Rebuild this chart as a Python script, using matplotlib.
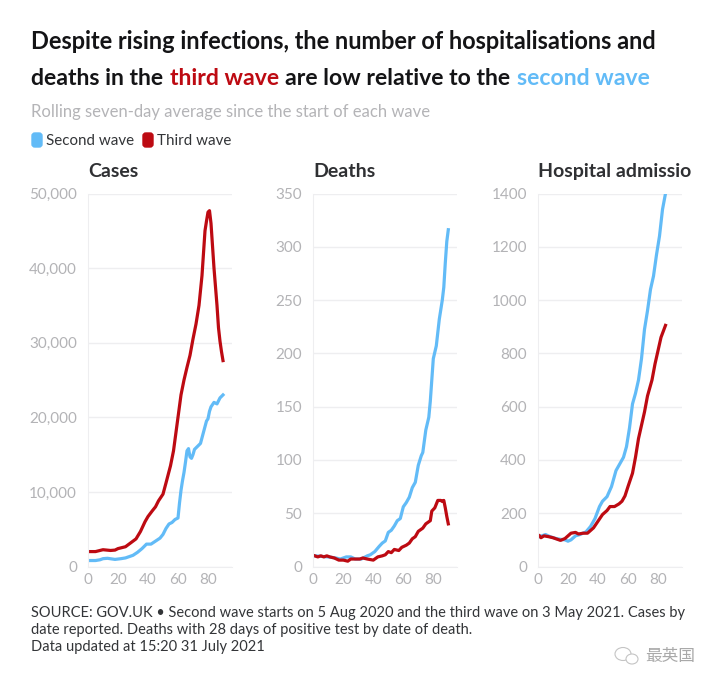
import matplotlib
matplotlib.use("Agg")
import matplotlib.pyplot as plt
from matplotlib.patches import Ellipse, FancyBboxPatch

plt.rcParams['font.family'] = ['Lato', 'Noto Sans CJK SC', 'DejaVu Sans']

W, H = 720, 688
BLUE = '#62bbf7'
RED = '#bd0a12'
GRID = '#eeeef0'
GREY = '#b3b3b6'

# cases
cases_third_x = [1, 5, 10, 15, 18, 20, 25, 30, 32, 35, 38, 40, 43, 45, 47, 50, 52, 55, 57, 60, 62, 64, 66, 68, 70,
                 72, 74, 76, 77, 78, 79, 80, 81, 82, 83, 84, 85, 86, 87, 88, 89, 90]
cases_third_y = [2000, 2000, 2250, 2150, 2200, 2400, 2650, 3400, 3700, 4700, 6000, 6700, 7500, 8000, 8800, 9700,
                 11200, 13500, 15500, 20000, 23000, 25000, 26700, 28300, 30500, 32500, 35000, 39000, 42000, 45000,
                 46300, 47500, 47700, 46000, 43000, 40000, 37500, 35000, 32000, 30200, 28800, 27600]
cases_second_x = [1, 5, 8, 10, 13, 18, 22, 25, 30, 33, 36, 39, 42, 45, 48, 50, 52, 54, 56, 58, 60, 61, 62, 63, 64,
                  65, 66, 67, 68, 69, 70, 71, 73, 75, 77, 79, 80, 81, 82, 84, 86, 88, 90]
cases_second_y = [800, 800, 900, 1050, 1100, 950, 1050, 1150, 1500, 1900, 2400, 3000, 3000, 3400, 3800, 4300, 5100,
                  5700, 5900, 6300, 6500, 8500, 10200, 11500, 12600, 14000, 15500, 15800, 14700, 14500, 15000,
                  15700, 16100, 16500, 18000, 19500, 19800, 20800, 21400, 22000, 21800, 22600, 23000]

# deaths
deaths_third_x = [1, 3, 5, 7, 9, 11, 14, 17, 20, 23, 25, 28, 31, 33, 36, 40, 43, 46, 48, 50, 52, 54, 57, 59, 62, 64,
                  66, 68, 70, 73, 75, 77, 78, 79, 81, 83, 85, 86, 87, 88, 89, 90]
deaths_third_y = [10, 9, 10, 9, 10, 9, 8, 6, 6, 5, 7, 7, 7, 8, 7, 6, 9, 10, 11, 14, 13, 16, 15, 18, 20, 22, 26, 28,
                  33, 36, 40, 42, 43, 52, 55, 62, 62, 61, 62, 55, 47, 40]
deaths_second_x = [1, 10, 15, 18, 22, 25, 28, 32, 36, 38, 41, 44, 46, 48, 50, 52, 54, 56, 58, 60, 62, 64, 66, 68, 70,
                   72, 73, 75, 77, 78, 80, 82, 84, 86, 87, 88, 89, 90]
deaths_second_y = [10, 9, 8, 7, 9, 9, 7, 7, 10, 11, 14, 19, 22, 24, 32, 34, 38, 43, 45, 56, 60, 65, 74, 79, 95, 104,
                   107, 128, 140, 155, 195, 207, 232, 250, 262, 285, 305, 316]

# hospital admissions
hosp_third_x = [1, 2, 4, 7, 10, 13, 15, 18, 20, 22, 25, 27, 30, 33, 35, 37, 40, 43, 46, 48, 51, 54, 56, 58, 60, 63,
                65, 67, 69, 71, 73, 76, 78, 80, 82, 85]
hosp_third_y = [115, 108, 115, 112, 108, 102, 98, 105, 115, 125, 128, 122, 125, 125, 135, 145, 170, 195, 210, 225,
                225, 235, 245, 265, 300, 350, 410, 480, 530, 580, 640, 700, 760, 810, 860, 905]
hosp_second_x = [1, 5, 8, 12, 15, 18, 20, 22, 25, 28, 32, 35, 38, 41, 43, 46, 49, 52, 54, 57, 59, 61, 63, 65, 67, 69,
                 71, 73, 75, 77, 79, 81, 83, 85]
hosp_second_y = [112, 120, 112, 105, 102, 100, 95, 100, 115, 120, 130, 150, 180, 225, 245, 262, 300, 360, 380, 410,
                 450, 520, 610, 650, 700, 780, 890, 960, 1040, 1090, 1170, 1240, 1340, 1400]

x_ticks = [0, 20, 40, 60, 80]
cases_ticks = [0, 10000, 20000, 30000, 40000, 50000]
deaths_ticks = [0, 50, 100, 150, 200, 250, 300, 350]
hosp_ticks = [0, 200, 400, 600, 800, 1000, 1200, 1400]

fig = plt.figure(figsize=(W / 100, H / 100), dpi=100, facecolor='white')


def fx(px):
    return px / W


def fy(py):
    return 1 - py / H


def draw_panel(left, title, second, third, ticks, fmt):
    right = left + 143.5
    top, bottom = 193.5, 566.5
    ax = fig.add_axes([fx(left), fy(bottom), fx(right - left), (bottom - top) / H])
    ax.plot(second[0], second[1], color=BLUE, lw=2.3, solid_joinstyle='round')
    ax.plot(third[0], third[1], color=RED, lw=2.3, solid_joinstyle='round')
    ax.set_xlim(0, 95.67)
    ax.set_ylim(0, ticks[-1])
    ax.set_xticks(x_ticks)
    ax.set_yticks(ticks)
    ax.set_yticklabels([fmt(t) for t in ticks])
    ax.grid(axis='y', color=GRID, lw=1)
    ax.set_axisbelow(True)
    ax.tick_params(length=0, labelsize=11, labelcolor=GREY)
    ax.tick_params(axis='y', pad=8)
    ax.tick_params(axis='x', pad=5)
    for side in ['top', 'right']:
        ax.spines[side].set_visible(False)
    for side in ['left', 'bottom']:
        ax.spines[side].set_color(GRID)
    fig.text(fx(left), fy(177), title, fontsize=14, fontweight='bold', color='#2f3033', va='baseline')
    return ax


draw_panel(88, 'Cases', (cases_second_x, cases_second_y), (cases_third_x, cases_third_y),
           cases_ticks, lambda t: f'{t:,}')
draw_panel(313.3, 'Deaths', (deaths_second_x, deaths_second_y), (deaths_third_x, deaths_third_y),
           deaths_ticks, str)
draw_panel(538, 'Hospital admissio', (hosp_second_x, hosp_second_y), (hosp_third_x, hosp_third_y),
           hosp_ticks, str)


# title runs with coloured words
def text_run(px, py, parts, gap, **kw):
    renderer = fig.canvas.get_renderer()
    for s, c in parts:
        t = fig.text(fx(px), fy(py), s, color=c, va='baseline', **kw)
        px += t.get_window_extent(renderer).width + gap


text_run(31, 49, [('Despite rising infections, the number of hospitalisations and', '#141416')], 6,
         fontsize=16.95, fontweight='bold')
text_run(31, 85, [('deaths in the', '#141416'), ('third wave', RED), ('are low relative to the', '#141416'),
                  ('second wave', BLUE)], 6.5, fontsize=16.6, fontweight='bold')

fig.text(fx(31), fy(117), 'Rolling seven-day average since the start of each wave', fontsize=12, color='#b4b4b7')

# legend
for px, c, label in [(31, BLUE, 'Second wave'), (142, RED, 'Third wave')]:
    fig.text(fx(px + 15), fy(145), label, fontsize=10.9, color='#333538')
    box = FancyBboxPatch((fx(px + 1), fy(147)), fx(10), 14 / H, boxstyle='round,pad=0,rounding_size=0.004',
                         fc=c, ec=c, lw=1, transform=fig.transFigure)
    fig.add_artist(box)

# footnote
foot = ['SOURCE: GOV.UK • Second wave starts on 5 Aug 2020 and the third wave on 3 May 2021. Cases by',
        'date reported. Deaths with 28 days of positive test by date of death.',
        'Data updated at 15:20 31 July 2021']
for py, line in zip([617, 634, 651], foot):
    fig.text(fx(31), fy(py), line, fontsize=10.5, color='#333538')

# watermark
fig.text(fx(645), fy(661), '最英国', fontsize=12, color='#a9a9a9', family=['Noto Sans CJK SC', 'DejaVu Sans'])
fig.add_artist(Ellipse((fx(623), fy(654)), 16 / W, 13 / H, fc='none', ec='#c4c4c4', lw=0.8, transform=fig.transFigure))
fig.add_artist(Ellipse((fx(632), fy(659)), 12 / W, 10 / H, fc='white', ec='#c4c4c4', lw=0.8, transform=fig.transFigure))

fig.savefig('out.png', dpi=100)
